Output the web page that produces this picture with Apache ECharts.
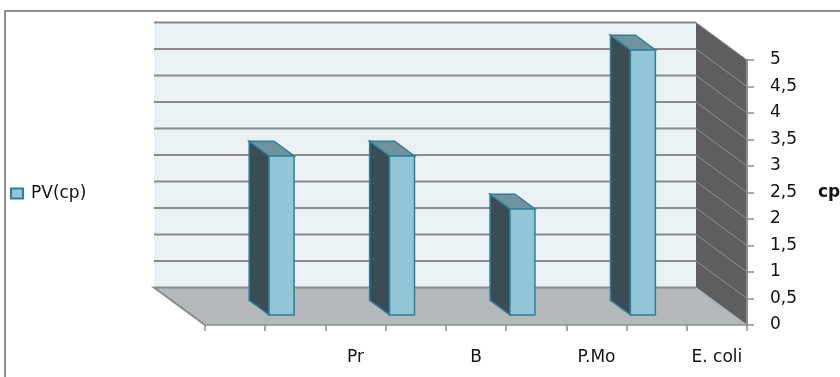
<!DOCTYPE html>
<html><head><meta charset="utf-8">
<script src="https://cdn.jsdelivr.net/npm/echarts@6/dist/echarts.min.js"></script>
<style>html,body{margin:0;padding:0;background:#fff}#c{width:840px;height:377px}</style>
</head><body><div id="c"></div>
<script>
// ---- data ----
const categories = ['', '', 'Pr', '', 'B', '', 'P.Mo', '', 'E. coli'];
const pvValues = [null, 3, null, 3, null, 2, null, 5, null];
const seriesName = 'PV(cp)';
const axisName = 'cp';
const yMin = 0, yMax = 5, yStep = 0.5;

// ---- layout / style constants ----
const DX = -51, DY = -37.5;      // 3D depth offset of the back wall
const F1 = 0.27, F2 = 0.66;      // bar front / back depth fractions
const BAR_W = 0.415;             // bar width as a fraction of the band
const FONT = 'DejaVu Sans';
const GRID_STROKE = '#8a8a8a';

const chart = echarts.init(document.getElementById('c'), null, {renderer: 'canvas'});

function wallsItem(params, api) {
  const cs = params.coordSys;
  const L = cs.x, R = cs.x + cs.width, T = cs.y, B = cs.y + cs.height;
  const ch = [];
  ch.push({type: 'polygon', shape: {points: [[L + DX, T + DY], [R + DX, T + DY], [R + DX, B + DY], [L + DX, B + DY]]}, style: {fill: '#eaf1f5'}});
  ch.push({type: 'polygon', shape: {points: [[R + DX, T + DY], [R, T], [R, B], [R + DX, B + DY]]}, style: {fill: '#5c5e60'}});
  ch.push({type: 'polygon', shape: {points: [[L + DX, B + DY], [R + DX, B + DY], [R, B], [L, B]]}, style: {fill: '#b5b8bb'}});
  for (let v = yMin + yStep; v <= yMax + 1e-9; v += yStep) {
    const y = api.coord([0, v])[1];
    ch.push({type: 'line', shape: {x1: L + DX, y1: y + DY, x2: R + DX, y2: y + DY}, style: {stroke: GRID_STROKE, lineWidth: 2}});
    ch.push({type: 'line', shape: {x1: R + DX, y1: y + DY, x2: R, y2: y}, style: {stroke: '#8f9193', lineWidth: 1}});
  }
  ch.push({type: 'polyline', shape: {points: [[L, B], [L + DX, B + DY], [R + DX, B + DY]]}, style: {stroke: GRID_STROKE, lineWidth: 2, fill: null}});
  ch.push({type: 'line', shape: {x1: R + DX, y1: B + DY, x2: R, y2: B}, style: {stroke: '#a4a6a8', lineWidth: 1}});
  return {type: 'group', children: ch};
}

function barItem(params, api) {
  const i = api.value(0), v = api.value(1);
  const top = api.coord([i, v]), base = api.coord([i, 0]);
  const bw = api.size([1, 0])[0] * BAR_W;
  const xl = top[0] - bw / 2, xr = top[0] + bw / 2;
  const ox1 = DX * F1, oy1 = DY * F1, ox2 = DX * F2, oy2 = DY * F2;
  const stroke = '#2e7f98', lw = 1.5;
  return {type: 'group', children: [
    {type: 'polygon', shape: {points: [[xl + ox1, base[1] + oy1], [xl + ox1, top[1] + oy1], [xl + ox2, top[1] + oy2], [xl + ox2, base[1] + oy2]]},
      style: {fill: '#3a4c54', stroke: stroke, lineWidth: lw}},
    {type: 'polygon', shape: {points: [[xl + ox1, top[1] + oy1], [xr + ox1, top[1] + oy1], [xr + ox2, top[1] + oy2], [xl + ox2, top[1] + oy2]]},
      style: {fill: '#6f949d', stroke: stroke, lineWidth: lw}},
    {type: 'rect', shape: {x: xl + ox1, y: top[1] + oy1, width: bw, height: base[1] - top[1]},
      style: {fill: '#93c5d8', stroke: stroke, lineWidth: lw}}
  ]};
}

const barData = [];
pvValues.forEach((v, i) => { if (v !== null) barData.push([i, v]); });

chart.setOption({
  animation: false,
  backgroundColor: '#ffffff',
  textStyle: {fontFamily: FONT},
  graphic: [{type: 'rect', shape: {x: 5, y: 11, width: 860, height: 400}, style: {fill: null, stroke: '#6e6e6e', lineWidth: 1.5}, z: 100, silent: true}],
  legend: {
    data: [seriesName], left: 10, top: 185, padding: 0, orient: 'vertical',
    icon: 'rect', itemWidth: 12, itemHeight: 10,
    textStyle: {fontFamily: FONT, fontSize: 17, color: '#111', padding: [0, 0, 0, 3]}
  },
  grid: {left: 205, right: 93, top: 60, bottom: 52, containLabel: false, outerBoundsMode: 'none'},
  xAxis: {
    type: 'category', data: categories, boundaryGap: true, z: 5,
    axisLine: {show: true, lineStyle: {color: '#8d8d8d', width: 1.5}},
    axisTick: {show: true, interval: 0, length: 6, lineStyle: {color: '#8d8d8d', width: 1.5}},
    axisLabel: {interval: 0, margin: 24, fontFamily: FONT, fontSize: 17, color: '#111'},
    splitLine: {show: false}
  },
  yAxis: {
    type: 'value', position: 'right', min: yMin, max: yMax, interval: yStep, z: 5,
    name: axisName, nameLocation: 'middle', nameGap: 71, nameRotate: 0,
    nameTextStyle: {fontFamily: FONT, fontSize: 17, fontWeight: 'bold', color: '#111'},
    axisLine: {show: true, onZero: false, lineStyle: {color: '#8d8d8d', width: 2}},
    axisTick: {show: true, length: 7, lineStyle: {color: '#8d8d8d', width: 1.5}},
    axisLabel: {margin: 23, fontFamily: FONT, fontSize: 17, color: '#111',
      formatter: v => String(v).replace('.', ',')},
    splitLine: {show: false}
  },
  series: [
    {type: 'custom', name: 'walls', renderItem: wallsItem, data: [[0, 0]], clip: false, z: 1, silent: true,
      encode: {x: 0, y: 1}},
    {type: 'custom', name: seriesName, renderItem: barItem, data: barData, clip: false, z: 2,
      encode: {x: 0, y: 1},
      itemStyle: {color: '#93c5d8', borderColor: '#2e7f98', borderWidth: 1.5}}
  ]
});
</script>
</body></html>
